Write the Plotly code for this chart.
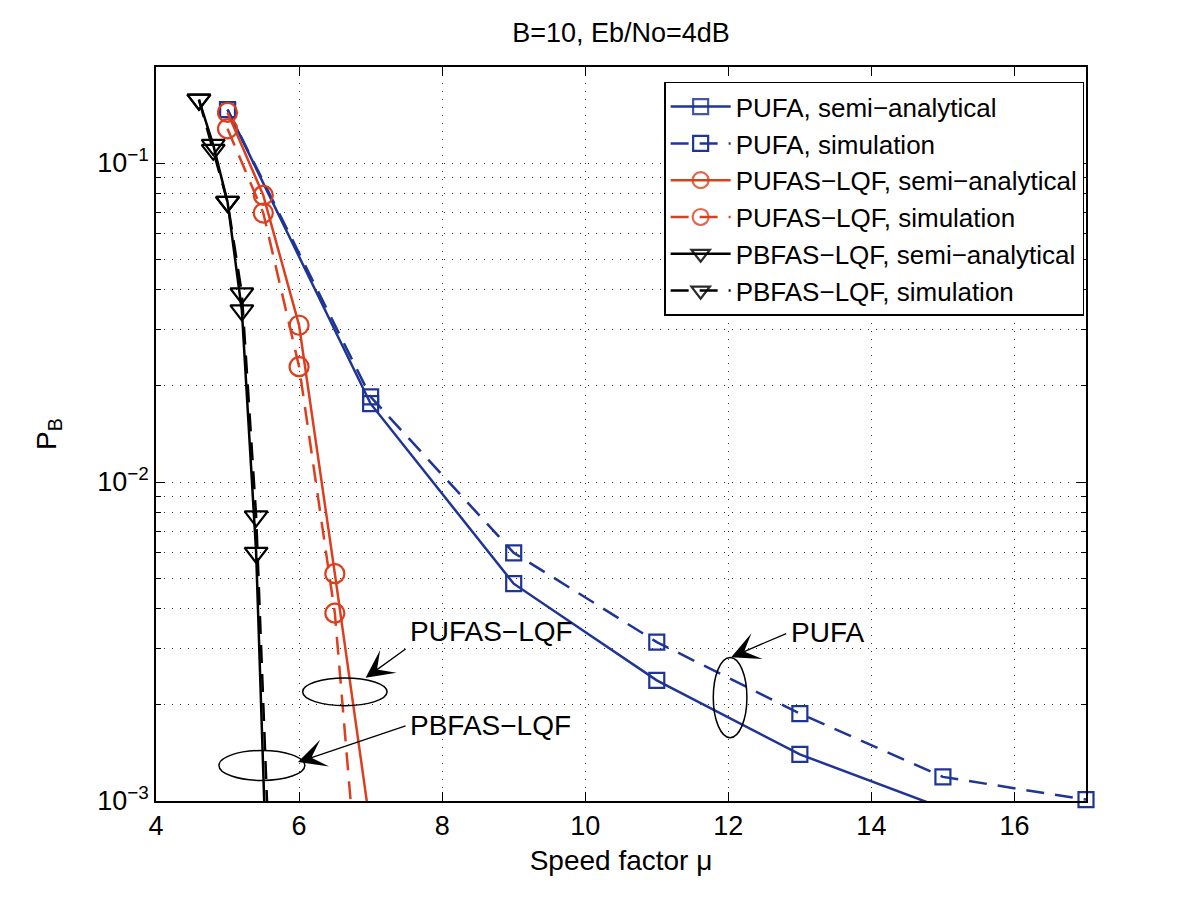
import numpy as np
import plotly.graph_objects as go

# ---------------- data ----------------
pufa_x_semi = [5, 7, 9, 11, 13, 15]
pufa_semi = [0.147, 0.0176, 0.0048, 0.00239, 0.00140, 0.00095]
pufa_x_sim = [5, 7, 9, 11, 13, 15, 17]
pufa_sim = [0.147, 0.0185, 0.0060, 0.00315, 0.00188, 0.00119, 0.00101]

pufas_x = [5, 5.5, 6, 6.5, 7]
pufas_semi = [0.144, 0.0792, 0.0310, 0.00516, 0.00082]
pufas_sim = [0.128, 0.0697, 0.0230, 0.00388, 0.00018]

pbfas_x = [4.6, 4.8, 5.0, 5.2, 5.4, 5.6]
pbfas_semi = [0.158, 0.114, 0.0755, 0.0345, 0.0060, 0.00025]
pbfas_sim = [0.158, 0.110, 0.0755, 0.039, 0.0078, 0.00052]

series_names = [
    "PUFA, semi−analytical", "PUFA, simulation",
    "PUFAS−LQF, semi−analytical", "PUFAS−LQF, simulation",
    "PBFAS−LQF, semi−analytical", "PBFAS−LQF, simulation",
]
x_ticks = [4, 6, 8, 10, 12, 14, 16]
y_ticks = [1e-3, 1e-2, 1e-1]
y_ticktext = ["10<sup>−3</sup>", "10<sup>−2</sup>", "10<sup>−1</sup>"]
Y_MIN, Y_MAX = 1e-3, 0.2

# ---------------- styling ----------------
BLUE = "#1f3596"
RED = "#dc3e1e"
BLACK = "#000000"
FONT = "Liberation Sans, Arial, sans-serif"
DASH = "18px,11px"

fig = go.Figure()

def add(x, y, name, color, symbol, size, dash):
    # markers of points outside the axis limits are hidden (as MATLAB does),
    # while markers on the border are drawn whole
    vis = [1 if Y_MIN * 0.999 <= v <= Y_MAX else 0 for v in y]
    fig.add_trace(go.Scatter(
        x=x, y=y, name=name, mode="lines+markers",
        line=dict(color=color, width=2.5, dash=dash),
        marker=dict(symbol=symbol, size=size, color=color, opacity=vis,
                    line=dict(color=color, width=2.2)),
        cliponaxis=False,
    ))

add(pufa_x_semi, pufa_semi, series_names[0], BLUE, "square-open", 15, "solid")
add(pufa_x_sim, pufa_sim, series_names[1], BLUE, "square-open", 15, DASH)
add(pufas_x, pufas_semi, series_names[2], RED, "circle-open", 19, "solid")
add(pufas_x, pufas_sim, series_names[3], RED, "circle-open", 19, DASH)
add(pbfas_x, pbfas_semi, series_names[4], BLACK, "triangle-down-open", 20, "solid")
add(pbfas_x, pbfas_sim, series_names[5], BLACK, "triangle-down-open", 20, DASH)

# ---------------- annotations: ellipses, arrows, labels ----------------
ellipses = [
    (6.05, 7.23, 0.00199, 0.00243),   # PUFAS-LQF
    (4.88, 6.08, 0.00116, 0.00144),   # PBFAS-LQF
    (11.79, 12.26, 0.00158, 0.00282), # PUFA
]
for x0, x1, y0, y1 in ellipses:
    fig.add_shape(type="circle", xref="x", yref="y", x0=x0, x1=x1, y0=y0, y1=y1,
                  line=dict(color="black", width=1.5))

# arrows: (tail_x, tail_logy, tip_x, tip_logy)
arrows = [
    (7.51, -2.520, 6.93, -2.614),
    (7.51, -2.763, 5.985, -2.878),
    (12.83, -2.473, 12.04, -2.549),
]
for tx, ty, hx, hy in arrows:
    fig.add_annotation(x=hx, y=hy, ax=tx, ay=ty, xref="x", yref="y",
                       axref="x", ayref="y", text="", showarrow=True,
                       arrowhead=3, arrowsize=3.6, arrowwidth=1.3,
                       arrowcolor="black")

labels = [
    ("PUFAS−LQF", 7.52, -2.468),
    ("PBFAS−LQF", 7.52, -2.763),
    ("PUFA", 12.85, -2.471),
]
for txt, lx, ly in labels:
    fig.add_annotation(x=lx, y=ly, xref="x", yref="y", text=txt, showarrow=False,
                       xanchor="left", yanchor="middle",
                       font=dict(family=FONT, size=28, color="black"))

# ---------------- layout ----------------
# (page body has an 8px margin, so the figure is offset by 8px)
W, H = 1192, 887
grid_dash = "1px,7px"
fig.update_layout(
    width=W, height=H,
    paper_bgcolor="white", plot_bgcolor="white",
    margin=dict(l=148, r=114, t=59, b=94, autoexpand=False),
    font=dict(family=FONT, size=26, color="black"),
    title=dict(text="B=10, Eb/No=4dB", x=0.5, xref="paper", xanchor="center",
               y=1 - 25 / H, yref="container", yanchor="middle",
               font=dict(family=FONT, size=27, color="black")),
    showlegend=True,
    legend=dict(x=0.998, y=0.98, xanchor="right", yanchor="top",
                bgcolor="white", bordercolor="black", borderwidth=1.5,
                font=dict(family=FONT, size=26, color="black"),
                itemwidth=60, tracegroupgap=0),
)
fig.update_xaxes(
    range=[4, 17], tickvals=x_ticks, ticks="inside", ticklen=9, tickwidth=1.2,
    tickcolor="black", showline=True, linecolor="black", linewidth=1.5,
    mirror="ticks", showgrid=True, gridcolor="#333333", gridwidth=1,
    griddash=grid_dash, zeroline=False,
    tickfont=dict(family=FONT, size=27),
    title=dict(text="Speed factor μ", standoff=10, font=dict(family=FONT, size=28)),
)
minor_y = [m * 10.0 ** e for e in (-3, -2, -1) for m in range(2, 10) if m * 10.0 ** e <= Y_MAX]
fig.update_yaxes(
    type="log", range=[np.log10(Y_MIN), np.log10(Y_MAX)], tickvals=y_ticks,
    ticktext=y_ticktext,
    ticks="inside", ticklen=9, tickwidth=1.2, tickcolor="black",
    showline=True, linecolor="black", linewidth=1.5, mirror="ticks",
    showgrid=True, gridcolor="#333333", gridwidth=1, griddash=grid_dash,
    zeroline=False, tickfont=dict(family=FONT, size=27),
    minor=dict(tickmode="array", tickvals=minor_y, ticks="inside", ticklen=5,
               tickcolor="black", showgrid=True, gridcolor="#333333",
               griddash=grid_dash, gridwidth=1),
    title=dict(text="P<sub>B</sub>", standoff=32, font=dict(family=FONT, size=28)),
)

fig.write_html("out.html")
